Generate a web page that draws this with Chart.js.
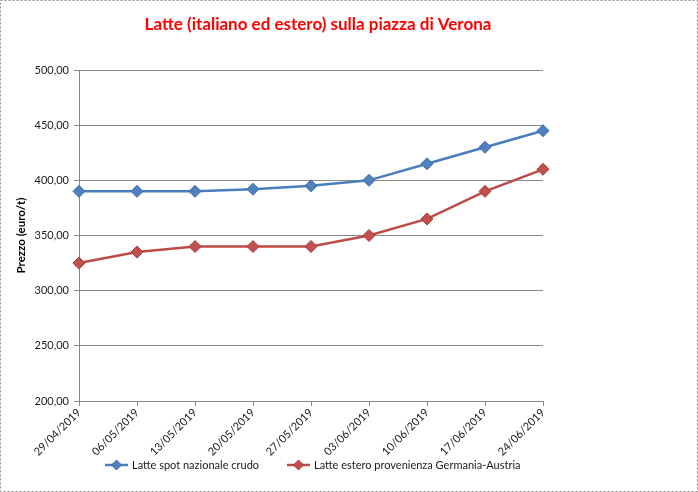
<!DOCTYPE html>
<html>
<head>
<meta charset="utf-8">
<script src="https://cdn.jsdelivr.net/npm/chart.js@4"></script>
<style>
  html, body { margin: 0; padding: 0; background: #fff; }
  #wrap { width: 698px; height: 492px; }
</style>
</head>
<body>
<div id="wrap"><canvas id="chart" width="698" height="492"></canvas></div>
<script>
const dates = ['29/04/2019', '06/05/2019', '13/05/2019', '20/05/2019', '27/05/2019',
               '03/06/2019', '10/06/2019', '17/06/2019', '24/06/2019'];
const latteNazionale = [390, 390, 390, 392, 395, 400, 415, 430, 445];
const latteEstero = [325, 335, 340, 340, 340, 350, 365, 390, 410];
const seriesNames = ['Latte spot nazionale crudo', 'Latte estero provenienza Germania-Austria'];
const chartTitle = 'Latte (italiano ed estero) sulla piazza di Verona';

const FONT = 'Lato, "Noto Sans", sans-serif';

// title, legend and the dashed outer frame, drawn by hand like the Excel export
const decorations = {
    id: 'decorations',
    afterDraw(chart) {
        const ctx = chart.ctx;
        ctx.save();
        ctx.strokeStyle = '#8c8c8c';
        ctx.lineWidth = 1;
        ctx.setLineDash([2, 2]);
        ctx.strokeRect(0.5, 0.5, 697, 491);
        ctx.setLineDash([]);

        ctx.fillStyle = '#ff0000';
        ctx.font = 'bold 17px ' + FONT;
        ctx.textAlign = 'center';
        ctx.textBaseline = 'middle';
        ctx.fillText(chartTitle, 318, 25);

        const items = [{ x: 105, ds: chart.data.datasets[0] }, { x: 287, ds: chart.data.datasets[1] }];
        ctx.font = '11px ' + FONT;
        ctx.textAlign = 'left';
        items.forEach(it => {
            const y = 465;
            ctx.strokeStyle = it.ds.borderColor;
            ctx.lineWidth = 2.5;
            ctx.beginPath();
            ctx.moveTo(it.x, y);
            ctx.lineTo(it.x + 23, y);
            ctx.stroke();
            ctx.fillStyle = it.ds.pointBackgroundColor;
            ctx.strokeStyle = it.ds.pointBorderColor;
            ctx.lineWidth = 1;
            ctx.beginPath();
            ctx.moveTo(it.x + 11.5, y - 5);
            ctx.lineTo(it.x + 16.5, y);
            ctx.lineTo(it.x + 11.5, y + 5);
            ctx.lineTo(it.x + 6.5, y);
            ctx.closePath();
            ctx.fill();
            ctx.stroke();
            ctx.fillStyle = '#1a1a1a';
            ctx.fillText(it.ds.label, it.x + 27, y);
        });
        ctx.restore();
    }
};

new Chart(document.getElementById('chart'), {
    type: 'line',
    data: {
        labels: dates,
        datasets: [{
            label: seriesNames[0],
            data: latteNazionale,
            borderColor: '#4a7ebb',
            borderWidth: 2.5,
            pointStyle: 'rectRot',
            pointRadius: 6,
            pointHoverRadius: 6,
            pointBackgroundColor: '#4f81bd',
            pointBorderColor: '#3c6aa8',
            pointBorderWidth: 1,
            tension: 0
        }, {
            label: seriesNames[1],
            data: latteEstero,
            borderColor: '#be4b48',
            borderWidth: 2.5,
            pointStyle: 'rectRot',
            pointRadius: 6,
            pointHoverRadius: 6,
            pointBackgroundColor: '#c0504d',
            pointBorderColor: '#a43d3a',
            pointBorderWidth: 1,
            tension: 0
        }]
    },
    options: {
        responsive: false,
        animation: false,
        layout: { padding: { left: 10, right: 155, top: 70, bottom: 31 } },
        plugins: {
            legend: { display: false },
            title: { display: false },
            tooltip: { enabled: false }
        },
        scales: {
            x: {
                offset: false,
                afterFit: s => { s.height = 60; },
                grid: { display: true, drawOnChartArea: false, drawTicks: true, tickLength: 5, color: '#868686' },
                border: { color: '#868686' },
                ticks: {
                    minRotation: 45, maxRotation: 45, autoSkip: false,
                    color: '#1a1a1a', font: { family: FONT, size: 11 }, padding: 0
                }
            },
            y: {
                min: 200, max: 500,
                afterFit: s => { s.width = 69; },
                grid: { color: '#8a8a8a', tickLength: 5, drawTicks: true },
                border: { color: '#868686' },
                ticks: {
                    stepSize: 50, color: '#1a1a1a', padding: 5,
                    font: { family: FONT, size: 11 },
                    callback: v => v.toFixed(2).replace('.', ',')
                },
                title: {
                    display: true, text: 'Prezzo (euro/t)', color: '#000',
                    font: { family: FONT, size: 11.5, weight: 'bold' },
                    padding: { top: 4, bottom: 0 }
                }
            }
        }
    },
    plugins: [decorations]
});
</script>
</body>
</html>
